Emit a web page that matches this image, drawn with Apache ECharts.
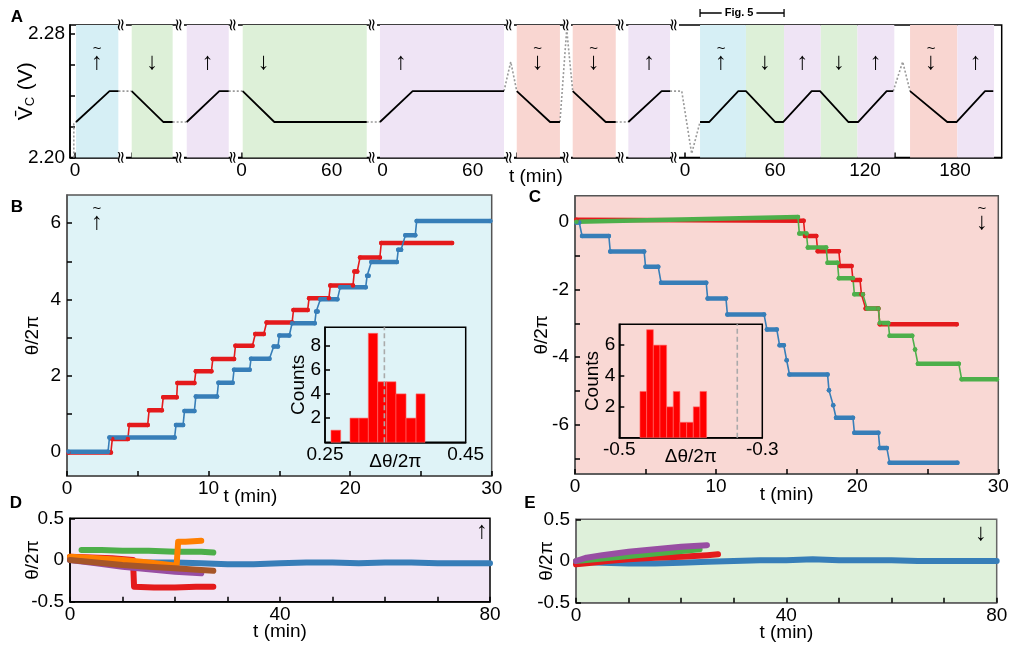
<!DOCTYPE html>
<html><head><meta charset="utf-8">
<script src="https://cdn.jsdelivr.net/npm/echarts@6/dist/echarts.min.js"></script>
<style>html,body{margin:0;padding:0;background:#fff}#c{width:1014px;height:648px}</style>
</head><body><div id="c"></div>
<script>
// ---------------- DATA ----------------
// Panel A: segments of the experiment (local time in min, mean voltage in V)
const segStart = [0, 37.8, 76, 111.1, 205.1, 294.5, 332.2, 370, 406.7]; // axis position of each segment's t=0
const segBreaks = [31.3, 70, 106, 198.7, 290, 328, 364.7, 400];
const segTicks = [[0,20],[0,20],[0,20],[0,20,40,60,80],[0,20,40,60,80],[0,20],[0,20],[0,20],[0,20,40,60,80,100,120,140,160,180,200]];
const segTickLabels = [[0],[],[],[0,60],[0,60],[],[],[],[0,60,120,180]];
const vcSolid = [
  [0, [[0.7,2.223],[23,2.243],[29,2.243]]],
  [1, [[0,2.243],[21,2.223],[27.3,2.223]]],
  [2, [[-1.5,2.223],[20.2,2.243],[26.5,2.243]]],
  [3, [[0.7,2.243],[21.8,2.223],[83.4,2.223]]],
  [4, [[-1.8,2.223],[20,2.243],[80.9,2.243]]],
  [5, [[0,2.243],[22.2,2.223],[28.8,2.223]]],
  [6, [[-0.4,2.243],[21.6,2.223],[28.3,2.223]]],
  [7, [[-1.1,2.223],[21.1,2.243],[26.7,2.243]]],
  [8, [[10,2.223],[16.2,2.223],[35.5,2.243],[40.6,2.243],[60,2.223],[65.5,2.223],[84.4,2.243],[90,2.243],[108.8,2.223],[115.5,2.223],[134.4,2.243],[138.8,2.243]]],
  [8, [[150,2.243],[174.8,2.223],[181.1,2.223],[200,2.243],[205.5,2.243]]]
];
const vcGaps = [
  [[0,-0.8,2.20],[0,-0.8,2.222],[0,0.7,2.223]],
  [[0,29,2.243],[1,0,2.243]],
  [[1,27.3,2.223],[2,-1.5,2.223]],
  [[2,26.5,2.243],[3,0.7,2.243]],
  [[3,83.4,2.223],[4,-1.8,2.223]],
  [[4,80.9,2.243],[4,85.4,2.262],[5,0,2.243]],
  [[5,28.8,2.223],[5,33.3,2.283],[6,-0.4,2.243]],
  [[6,28.3,2.223],[7,-1.1,2.223]],
  [[7,26.7,2.243],[7,34.5,2.243],[8,4.4,2.2025],[8,10,2.223]],
  [[8,138.8,2.243],[8,145.1,2.262],[8,150,2.243]]
];
// protocol blocks: [segment, tStart, tEnd, kind]  tu = ramp up (tilde), d = down, u = up, td = ramp down (tilde)
const vcBlocks = [
  [0,0.7,28.9,'tu'],[1,0,27.3,'d'],[2,-1.5,26.5,'u'],[3,0.7,83.4,'d'],[4,-1.8,80.9,'u'],
  [5,0,28.8,'td'],[6,-0.4,28.3,'td'],[7,-1.1,26.7,'u'],
  [8,10,40.6,'tu'],[8,40.6,66,'d'],[8,66,90.5,'u'],[8,90.5,114.9,'d'],[8,114.9,139.5,'u'],
  [8,150,181.5,'td'],[8,181.5,206,'u']
];
const fig5Span = [8, 10, 66];

// Panel B: plateaus [tStart, tEnd, theta/2pi]
const bRed = [[0.1,3.1,-0.02],[3.2,4.3,0.33],[4.4,5.7,0.70],[5.8,6.7,1.09],[6.8,7.75,1.43],[7.8,9.0,1.8],[9.1,10.2,2.11],[10.3,11.8,2.43],[11.9,13.1,2.78],[13.3,13.9,3.09],[14.1,15.9,3.39],[16.0,17.0,3.72],[17.1,18.5,4.03],[18.6,20.2,4.36],[20.3,20.5,4.73],[20.7,22.1,5.1],[22.2,27.2,5.48]];
const bBlue = [[0.1,2.9,0.0],[3.0,7.6,0.37],[7.7,8.2,0.70],[8.3,9.0,1.07],[9.1,10.6,1.45],[10.7,11.7,1.81],[11.8,12.9,2.15],[13.0,14.3,2.44],[14.6,14.9,2.76],[15.0,15.7,3.05],[15.9,17.5,3.37],[17.6,17.7,3.68],[17.9,19.1,4.0],[19.3,21.1,4.32],[21.2,21.3,4.62],[21.5,23.3,4.98],[23.4,23.6,5.3],[23.9,24.6,5.68],[24.7,29.9,6.06]];
// Panel B inset histogram: [binStart, binEnd, count]
const bHist = [[0.2585,0.2723,1],[0.2855,0.2983,2],[0.2983,0.3116,2],[0.3116,0.3249,9],[0.3249,0.3377,5],[0.3377,0.3509,5],[0.3509,0.3652,4],[0.3652,0.3794,2],[0.3794,0.3922,4]];
const bHistRef = 0.3344;

// Panel C plateaus [tStart, tEnd, thetaStart, (thetaEnd)]
const cBlue = [[0.1,0.3,-0.02],[0.5,2.4,-0.42],[2.5,4.9,-0.88],[5.0,5.9,-1.33],[6.1,9.3,-1.8],[9.4,10.7,-2.27],[10.8,13.4,-2.74],[13.6,14.3,-3.18],[14.5,14.8,-3.65],[15.0,15.0,-4.09],[15.2,17.9,-4.51],[18.0,18.0,-4.98],[18.3,18.3,-5.42],[18.5,19.7,-5.79],[19.8,21.5,-6.23],[21.6,22.1,-6.68],[22.3,27.1,-7.12]];
const cRed = [[0.1,16.2,0.06,0.03],[16.3,17.1,-0.42],[17.2,18.7,-0.87],[18.8,19.6,-1.31],[19.7,20.2,-1.72],[20.3,20.4,-2.14],[20.6,21.5,-2.56],[21.6,27.05,-3.03]];
const cGreen = [[0.1,15.8,0.0,0.14],[15.9,16.4,-0.35],[16.5,17.8,-0.76],[17.9,18.6,-1.21],[18.7,19.7,-1.67],[19.8,20.4,-2.14],[20.7,21.5,-2.56],[21.6,22.2,-2.99],[22.3,23.9,-3.37],[24.1,24.1,-3.77],[24.3,27.2,-4.19],[27.4,29.9,-4.65]];
const cHist = [[-0.4711,-0.4618,3],[-0.4618,-0.4524,7],[-0.4524,-0.4431,6],[-0.4431,-0.4338,6],[-0.4338,-0.4245,2],[-0.4245,-0.4152,3],[-0.4152,-0.4058,1],[-0.4058,-0.3965,1],[-0.3965,-0.3872,2],[-0.3872,-0.3779,3]];
const cHistRef = -0.335;

// Panel D
const dBlue = [[0,0],[5,-0.01],[10,-0.02],[15,-0.03],[20,-0.03],[25,-0.04],[30,-0.05],[35,-0.05],[40,-0.04],[45,-0.03],[50,-0.03],[55,-0.04],[60,-0.03],[65,-0.03],[70,-0.04],[75,-0.04],[80,-0.04]];
const dGreen = [[2.2,0.12],[6,0.12],[10,0.11],[15,0.11],[20,0.1],[25,0.1],[27.3,0.09]];
const dRed = [[0,0.04],[4,0.03],[8,0.02],[12,0.0],[12.2,-0.32],[16,-0.33],[20,-0.33],[24,-0.32],[27.3,-0.32]];
const dPurple = [[0,0],[5,-0.04],[10,-0.08],[15,-0.11],[20,-0.14],[25,-0.16]];
const dOrange = [[0,0.04],[5,0.02],[10,0.0],[15,-0.03],[20.3,-0.07],[20.6,0.22],[22,0.22],[25,0.23]];
const dBrown = [[0,0],[5,-0.03],[10,-0.06],[15,-0.08],[20,-0.1],[25,-0.12],[27.3,-0.13]];
// Panel E
const eBlue = [[0,-0.01],[5,-0.02],[10,-0.03],[15,-0.03],[20,-0.02],[25,-0.01],[30,0.0],[35,0.01],[40,0.01],[45,0.02],[50,0.01],[55,0.01],[60,0.01],[65,0.0],[70,0.0],[75,0.0],[80,0.0]];
const eGreen = [[0,0],[5,0.03],[10,0.06],[15,0.09],[20,0.12],[23.5,0.14]];
const ePurple = [[0,0.0],[2,0.04],[5,0.07],[10,0.11],[15,0.14],[20,0.17],[24.9,0.19]];
const eRed = [[0,-0.04],[3,-0.02],[6,0.0],[10,0.02],[15,0.04],[20,0.05],[25,0.07],[27,0.08]];

// ---------------- STYLE ----------------
const F = 'Liberation Sans, Arial, Helvetica, sans-serif';
const FS = 19;
const C = {red:'#e41a1c', blue:'#377eb8', green:'#4daf4a', purple:'#984ea3', orange:'#ff7f00', brown:'#a65628'};
const BG = {tu:'#d6eff5', d:'#ddf0d8', u:'#efe4f5', td:'#f9d6d1'};

const chart = echarts.init(document.getElementById('c'), null, {renderer:'canvas'});

function axis(gi, o, col) {
  col = col || '#000';
  const base = {
    gridIndex: gi, type: 'value',
    axisLine: {show:true, onZero:false, lineStyle:{color:col, width:1.5}},
    axisTick: {show:true, inside:true, length:5, lineStyle:{color:'#000', width:1.5}},
    axisLabel: {color:'#000', fontSize:FS, fontFamily:F, margin:4, showMinLabel:true, showMaxLabel:true, hideOverlap:false},
    splitLine: {show:false},
    nameTextStyle: {color:'#000', fontSize:FS, fontFamily:F},
    nameLocation: 'middle',
    nameMoveOverlap: false
  };
  const r = Object.assign({}, base, o);
  if (o.axisTick) r.axisTick = Object.assign({}, base.axisTick, o.axisTick);
  if (o.axisLabel) r.axisLabel = Object.assign({}, base.axisLabel, o.axisLabel);
  if (o.nameTextStyle) r.nameTextStyle = Object.assign({}, base.nameTextStyle, o.nameTextStyle);
  return r;
}

const V = (seg, t) => segStart[seg] + t;

// Panel A ticks
const aTicks = [], aLabels = [], aLabelMap = {};
segTicks.forEach((ts, s) => ts.forEach(t => aTicks.push(V(s, t))));
segTickLabels.forEach((ts, s) => ts.forEach(t => { const v = V(s, t); aLabels.push(v); aLabelMap[v.toFixed(2)] = String(t); }));

const gb = {show:true, borderWidth:1.5, outerBoundsMode:'none', containLabel:false};
const grids = [
  Object.assign({left:70, top:25, width:931.7, height:132.5, borderColor:'#000', backgroundColor:'transparent'}, gb),
  Object.assign({left:67, top:195, width:424.7, height:281, borderColor:'#555', backgroundColor:'#dff3f7'}, gb),
  Object.assign({left:325, top:327.3, width:140.7, height:115, borderColor:'#000', backgroundColor:'transparent'}, gb),
  Object.assign({left:575, top:195.7, width:423.3, height:278.3, borderColor:'#555', backgroundColor:'#f9d8d4'}, gb),
  Object.assign({left:619.3, top:324.3, width:143, height:113.4, borderColor:'#000', backgroundColor:'transparent'}, gb),
  Object.assign({left:70, top:518.3, width:420, height:83.4, borderColor:'#000', backgroundColor:'#f1e6f5'}, gb),
  Object.assign({left:576, top:519.3, width:420.7, height:83.4, borderColor:'#666', backgroundColor:'#def0da'}, gb)
];

const xAxes = [
  axis(0, {min:-3.33, max:617.8, axisTick:{customValues:aTicks}, axisLabel:{customValues:aLabels, formatter:v => aLabelMap[v.toFixed(2)] || ''}, name:'t (min)', nameGap:10}),
  axis(1, {min:0, max:30, axisTick:{customValues:[0,5,10,15,20,25,30]}, axisLabel:{customValues:[0,10,20,30], margin:3}, name:'t (min)', nameGap:11, nameTextStyle:{padding:[0,58,0,0]}}, '#555'),
  axis(2, {min:0.25, max:0.45, axisTick:{customValues:[0.35]}, axisLabel:{customValues:[0.25,0.45], formatter:v => v.toFixed(2), margin:3}, name:'Δθ/2π', nameGap:10}),
  axis(3, {min:0, max:30, axisTick:{customValues:[0,5,10,15,20,25,30]}, axisLabel:{customValues:[0,10,20,30], margin:3}, name:'t (min)', nameGap:11}, '#555'),
  axis(4, {min:-0.5, max:-0.3, axisTick:{customValues:[-0.4]}, axisLabel:{customValues:[-0.5,-0.3], formatter:v => v.toFixed(1), margin:3}, name:'Δθ/2π', nameGap:10}),
  axis(5, {min:0, max:80, axisTick:{customValues:[0,10,20,30,40,50,60,70,80]}, axisLabel:{customValues:[0,40,80]}, name:'t (min)', nameGap:21}),
  axis(6, {min:0, max:80, axisTick:{customValues:[0,10,20,30,40,50,60,70,80]}, axisLabel:{customValues:[0,40,80]}, name:'t (min)', nameGap:21}, '#666')
];
const yAxes = [
  axis(0, {min:2.20, max:2.2858, axisTick:{customValues:[2.20,2.22,2.24,2.26,2.28]}, axisLabel:{customValues:[2.20,2.28], formatter:v => v.toFixed(2), margin:5},
    name:'{v|V\u0304}{c|C}{v| (V)}', nameRotate:90, nameGap:33,
    nameTextStyle:{rich:{v:{fontSize:21, fontFamily:F, color:'#000'}, c:{fontSize:13, fontFamily:F, color:'#000', padding:[8,1,0,0]}}}}),
  axis(1, {min:-0.64, max:6.74, axisTick:{customValues:[0,1,2,3,4,5,6]}, axisLabel:{customValues:[0,2,4,6], margin:6}, name:'θ/2π', nameRotate:90, nameGap:25}, '#555'),
  axis(2, {min:0, max:9.5, axisTick:{customValues:[2,4,6,8]}, axisLabel:{customValues:[2,4,6,8], margin:4}, name:'Counts', nameRotate:90, nameGap:17}),
  axis(3, {min:-7.45, max:0.77, axisTick:{customValues:[-7,-6,-5,-4,-3,-2,-1,0]}, axisLabel:{customValues:[-6,-4,-2,0], margin:6}, name:'θ/2π', nameRotate:90, nameGap:24}, '#555'),
  axis(4, {min:0, max:7.35, axisTick:{customValues:[2,4,6]}, axisLabel:{customValues:[2,4,6], margin:4}, name:'Counts', nameRotate:90, nameGap:17}),
  axis(5, {min:-0.5, max:0.5, axisTick:{customValues:[-0.5,0,0.5]}, axisLabel:{customValues:[-0.5,0,0.5], margin:6}, name:'θ/2π', nameRotate:90, nameGap:28}),
  axis(6, {min:-0.5, max:0.5, axisTick:{customValues:[-0.5,0,0.5]}, axisLabel:{customValues:[-0.5,0,0.5], margin:6}, name:'θ/2π', nameRotate:90, nameGap:20}, '#666')
];

const series = [];
// Panel A background blocks
series.push({type:'line', xAxisIndex:0, yAxisIndex:0, data:[], z:0, silent:true,
  markArea:{silent:true, data: vcBlocks.map(b => [{xAxis:V(b[0],b[1]), itemStyle:{color:BG[b[3]]}}, {xAxis:V(b[0],b[2])}])}});
vcGaps.forEach(g => series.push({type:'line', xAxisIndex:0, yAxisIndex:0, z:2, silent:true, showSymbol:false,
  data:g.map(p => [V(p[0],p[1]), p[2]]), lineStyle:{color:'#9a9a9a', width:1.6, type:[2,2]}}));
vcSolid.forEach(s => series.push({type:'line', xAxisIndex:0, yAxisIndex:0, z:3, silent:true, showSymbol:false,
  data:s[1].map(p => [V(s[0],p[0]), p[1]]), lineStyle:{color:'#000', width:1.8}}));

function stepSeries(pl, color, gi) {
  const thin = [], thick = [];
  pl.forEach(p => {
    const a = [p[0], p[2]], b = [p[1], p.length > 3 ? p[3] : p[2]];
    thin.push(a, b); thick.push(a, b, ['-','-']);
  });
  series.push({type:'line', xAxisIndex:gi, yAxisIndex:gi, data:thin, z:3, silent:true,
    lineStyle:{color, width:1.6}, symbol:'circle', symbolSize:4.5, itemStyle:{color}});
  series.push({type:'line', xAxisIndex:gi, yAxisIndex:gi, data:thick, z:3, silent:true, connectNulls:false,
    showSymbol:false, lineStyle:{color, width:4.5, cap:'round', join:'round'}});
}
stepSeries(bRed, C.red, 1);
stepSeries(bBlue, C.blue, 1);
stepSeries(cBlue, C.blue, 3);
stepSeries(cRed, C.red, 3);
stepSeries(cGreen, C.green, 3);

function hist(data, ref, ymax, gi) {
  series.push({type:'custom', xAxisIndex:gi, yAxisIndex:gi, z:4, silent:true, data:data,
    encode:{x:[0,1], y:2},
    renderItem:(params, api) => {
      const p0 = api.coord([api.value(0), api.value(2)]);
      const p1 = api.coord([api.value(1), 0]);
      return {type:'rect', shape:{x:p0[0], y:p0[1], width:p1[0]-p0[0], height:p1[1]-p0[1]},
        style:{fill:'#ff0000', stroke:'#ff6a6a', lineWidth:0.6}};
    }});
  series.push({type:'line', xAxisIndex:gi, yAxisIndex:gi, z:5, silent:true, showSymbol:false,
    data:[[ref,0],[ref,ymax]], lineStyle:{color:'#aaa', width:1.6, type:[5,3]}});
}
hist(bHist, bHistRef, 9.5, 2);
hist(cHist, cHistRef, 7.35, 4);

function band(d, color, gi) {
  series.push({type:'line', xAxisIndex:gi, yAxisIndex:gi, data:d, z:3, silent:true, showSymbol:false,
    lineStyle:{color, width:6, cap:'round', join:'round'}});
}
band(dBlue, C.blue, 5); band(dGreen, C.green, 5); band(dRed, C.red, 5); band(dPurple, C.purple, 5); band(dOrange, C.orange, 5); band(dBrown, C.brown, 5);
band(eBlue, C.blue, 6); band(eRed, C.red, 6); band(eGreen, C.green, 6); band(ePurple, C.purple, 6);

chart.setOption({animation:false, grid:grids, xAxis:xAxes, yAxis:yAxes, series});

// ---------------- annotations ----------------
const g = [];
const px = (gi, x, y) => chart.convertToPixel({gridIndex:gi}, [x, y]);
function arrow(x, y, dir, tilde) {
  g.push({type:'text', x, y, z:20, style:{text: dir === 'u' ? '↑' : '↓', font:'24px ' + F, fill:'#000', align:'center', verticalAlign:'middle'}});
  if (tilde) g.push({type:'text', x, y:y-13, z:20, style:{text:'~', font:'15px ' + F, fill:'#000', align:'center', verticalAlign:'middle'}});
}
vcBlocks.forEach(b => {
  const t = Math.min((b[1]+b[2])/2, b[1]+14);
  const x = px(0, V(b[0], t), 2.25)[0];
  const k = b[3];
  arrow(x, 62, (k === 'u' || k === 'tu') ? 'u' : 'd', k === 'tu' || k === 'td');
});
const yTop = px(0, 0, 2.2858)[1], yBot = px(0, 0, 2.20)[1];
segBreaks.forEach(v => {
  const x = px(0, v, 2.25)[0];
  [yTop, yBot].forEach(y => {
    g.push({type:'rect', z:20, shape:{x:x-4, y:y-5, width:8, height:10}, style:{fill:'#fff'}});
    g.push({type:'text', x, y, z:21, rotation:Math.PI/2, style:{text:'≈', font:'17px DejaVu Sans', fill:'#000', align:'center', verticalAlign:'middle'}});
  });
});
// Fig. 5 bracket
const fx1 = px(0, V(fig5Span[0], fig5Span[1]), 2.25)[0], fx2 = px(0, V(fig5Span[0], fig5Span[2]), 2.25)[0];
g.push({type:'line', z:20, shape:{x1:fx1, y1:13, x2:fx2, y2:13}, style:{stroke:'#000', lineWidth:1.3}});
g.push({type:'line', z:20, shape:{x1:fx1, y1:9, x2:fx1, y2:17}, style:{stroke:'#000', lineWidth:1.3}});
g.push({type:'line', z:20, shape:{x1:fx2, y1:9, x2:fx2, y2:17}, style:{stroke:'#000', lineWidth:1.3}});
g.push({type:'text', x:(fx1+fx2)/2-3, y:13, z:21, style:{text:'Fig. 5', font:'bold 11px ' + F, fill:'#000', align:'center', verticalAlign:'middle', backgroundColor:'#fff', padding:[0,3]}});
// panel arrows
arrow(97, 222, 'u', true);
arrow(982, 222, 'd', true);
arrow(482, 531, 'u', false);
arrow(981, 533, 'd', false);
// panel letters
[['A',17,17],['B',17,207],['C',535,197],['D',16,503],['E',530,503]].forEach(l =>
  g.push({type:'text', x:l[1], y:l[2], z:20, style:{text:l[0], font:'bold 17px ' + F, fill:'#000', align:'center', verticalAlign:'middle'}}));
chart.setOption({graphic:g});
</script></body></html>
